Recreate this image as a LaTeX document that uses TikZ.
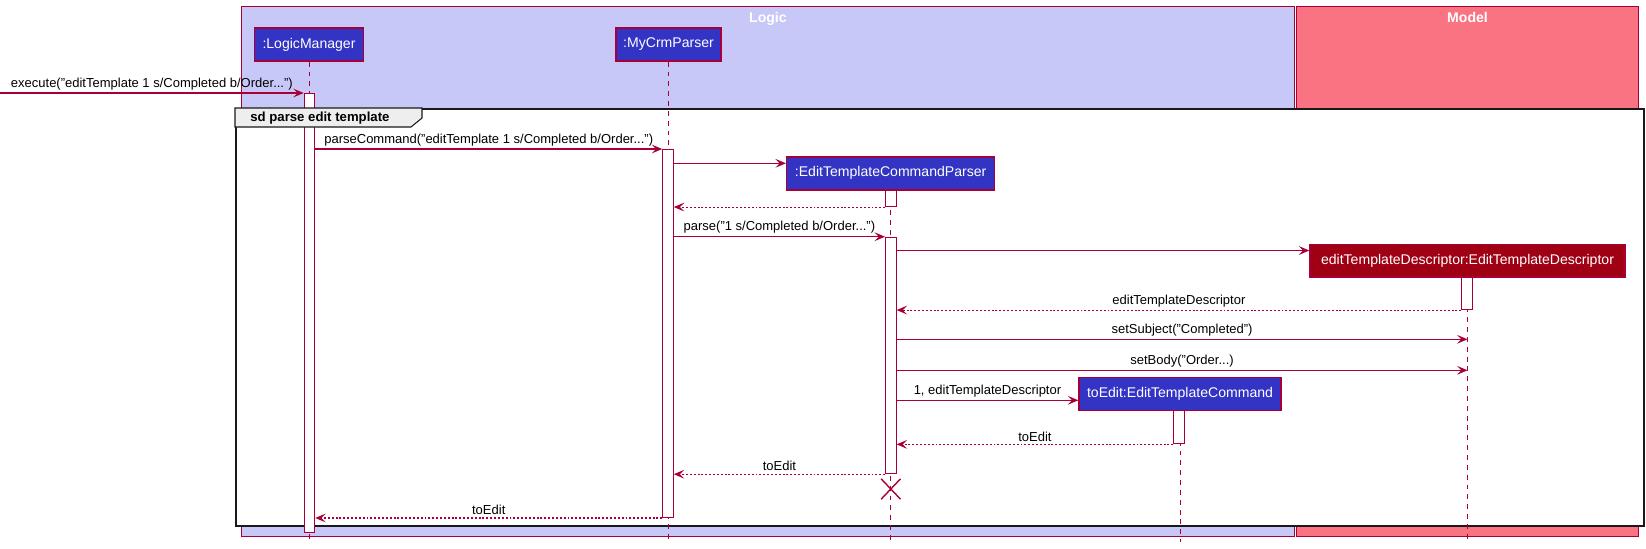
\documentclass[tikz,border=0pt]{standalone}
\usepackage{fontspec}
\setmainfont{Liberation Sans}
\usetikzlibrary{arrows.meta, positioning, shapes.misc}
\definecolor{umlred}{HTML}{A80036}
\definecolor{logicbg}{HTML}{C8C8F8}
\definecolor{modelbg}{HTML}{FA7382}
\definecolor{partblue}{HTML}{3333C4}
\definecolor{partred}{HTML}{A00014}
\definecolor{tabgray}{HTML}{EEEEEE}
\tikzset{
  group/.style={rectangle, draw=umlred, line width=0.6pt, anchor=north west, inner sep=0pt, minimum height=10.6cm},
  grouptitle/.style={font=\fontsize{8}{9}\selectfont\bfseries, text=white, inner sep=0pt},
  part/.style={rectangle, draw=umlred, line width=0.8pt, fill=partblue, text=white, font=\fontsize{8}{9.6}\selectfont, minimum height=0.66cm, inner sep=0pt},
  actbar/.style={rectangle, draw=umlred, fill=white, line width=0.6pt, minimum width=0.21cm, inner sep=0pt, anchor=north},
  lifeline/.style={draw=umlred, line width=0.5pt, dash pattern=on 2.8pt off 2.8pt},
  msg/.style={draw=umlred, line width=0.6pt, -{Stealth[length=6pt, width=5pt, inset=2.5pt]}},
  ret/.style={msg, dash pattern=on 1.1pt off 1.1pt},
  lbl/.style={font=\fontsize{7.4}{8.9}\selectfont, inner sep=0pt, above=1.5pt},
  sdframe/.style={rectangle, draw=black!90, line width=1.2pt, fill=white, anchor=north west, inner sep=0pt},
  sdtab/.style={draw=black!90, line width=0.6pt, fill=tabgray},
  sdtext/.style={font=\fontsize{7.5}{9}\selectfont\bfseries, inner sep=0pt, anchor=west},
  killmark/.style={cross out, draw=umlred, line width=0.8pt, minimum width=0.36cm, minimum height=0.38cm, inner sep=0pt}
}

\begin{document}
\begin{tikzpicture}[x=0.02cm, y=-0.02cm]
\useasboundingbox (0,0) rectangle (1646,548);

% Groups
\node[group, fill=logicbg, minimum width=21.06cm] (logic) at (241,6) {};
\node[group, fill=modelbg, minimum width=6.84cm] (model) at (1296,6) {};
\node[grouptitle, below=0.12cm of logic.north] (logicT) {Logic};
\node[grouptitle, below=0.12cm of model.north] (modelT) {Model};

% Frame
\node[sdframe, minimum width=28.17cm, minimum height=8.34cm] (sd) at (235,108) {};

% Participants
\node[part, minimum width=2.19cm] (pLM) at (309,44.5) {:LogicManager};
\node[part, minimum width=2.1cm] (pMP) at (668.5,44.5) {:MyCrmParser};
\node[part, minimum width=4.16cm] (pCP) at (890.6,173.3) {:EditTemplateCommandParser};
\node[part, fill=partred, minimum width=6.3cm] (pTD) at (1467.5,260.7) {editTemplateDescriptor:EditTemplateDescriptor};
\node[part, minimum width=4.04cm] (pTE) at (1180,394) {toEdit:EditTemplateCommand};

% Lifelines
\coordinate (end) at (0,542);
\foreach \p in {pLM, pMP, pCP, pTD, pTE}
  \draw[lifeline] (\p.south) -- (\p.south |- end);

% Activations
\node[actbar, minimum height=8.78cm] (aLM) at (309.5,93) {};
\node[actbar, minimum height=7.36cm] (aMP) at (668,149) {};
\node[actbar, minimum height=0.32cm] (aCP1) at (890.8,190) {};
\node[actbar, minimum height=4.73cm] (aCP2) at (890.8,236.7) {};
\node[actbar, minimum height=0.634cm] (aTD) at (1467,277.3) {};
\node[actbar, minimum height=0.666cm] (aTE) at (1179,410) {};

% Frame tab
\draw[sdtab] (sd.north west) -- ++(187,0) -- ++(0,10) -- ++(-11,9) -- ++(-176,0) -- cycle;
\node[sdtext] (sdT) at (250,118) {sd parse edit template};

% Destroy
\node[killmark] (kill) at (890.8,489) {};

% Message rows
\coordinate (entry) at (0,93);
\coordinate (rowNewCP) at (0,163.3);
\coordinate (rowNewTD) at (0,250.5);
\coordinate (rowSubj) at (0,339.3);
\coordinate (rowBody) at (0,370.3);
\coordinate (rowNewTE) at (0,400.3);

% Calls
\draw[msg] (entry) -- node[lbl] (lExec) {execute("editTemplate 1 s/Completed b/Order...")} (aLM.north west);
\draw[msg] (aLM.east |- aMP.north) -- node[lbl] (lCmd) {parseCommand("editTemplate 1 s/Completed b/Order...")} (aMP.north west);
\draw[msg] (aMP.east |- rowNewCP) -- (pCP.west |- rowNewCP);
\draw[msg] (aMP.east |- aCP2.north) -- node[lbl] (lParse) {parse("1 s/Completed b/Order...")} (aCP2.north west);
\draw[msg] (aCP2.east |- rowNewTD) -- (pTD.west |- rowNewTD);
\draw[msg] (aCP2.east |- rowSubj) -- node[lbl] (lSubj) {setSubject("Completed")} (pTD.south |- rowSubj);
\draw[msg] (aCP2.east |- rowBody) -- node[lbl] (lBody) {setBody("Order...)} (pTD.south |- rowBody);
\draw[msg] (aCP2.east |- rowNewTE) -- node[lbl] (lNewTE) {1, editTemplateDescriptor} (pTE.west |- rowNewTE);

% Returns
\draw[ret] (aCP1.south west) -- (aMP.east |- aCP1.south);
\draw[ret] (aTD.south west) -- node[lbl] (lDesc) {editTemplateDescriptor} (aCP2.east |- aTD.south);
\draw[ret] (aTE.south west) -- node[lbl] (lRet1) {toEdit} (aCP2.east |- aTE.south);
\draw[ret] (aCP2.south west) -- node[lbl] (lRet2) {toEdit} (aMP.east |- aCP2.south);
\draw[ret] (aMP.south west) -- node[lbl] (lRet3) {toEdit} (aLM.east |- aMP.south);

\end{tikzpicture}
\end{document}
